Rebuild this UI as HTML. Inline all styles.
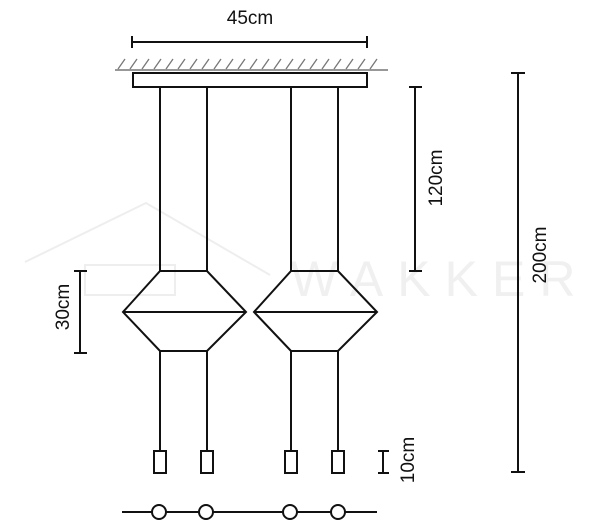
<!DOCTYPE html>
<html><head><meta charset="utf-8"><style>
html,body{margin:0;padding:0;background:#fff;}
svg{display:block}
text{font-family:"Liberation Sans","DejaVu Sans",sans-serif;fill:#111;}
</style></head><body>
<svg width="600" height="529" viewBox="0 0 600 529" xmlns="http://www.w3.org/2000/svg">
<!-- watermark -->
<g stroke="#eeeeee" stroke-width="2" fill="none">
<polyline points="25,262 146,203 270,275"/>
<rect x="85" y="265" width="90" height="30"/>
</g>
<text x="440" y="296" font-size="50" text-anchor="middle" style="fill:#f0f0f0;letter-spacing:14px">WAKKER</text>

<g stroke="#111" stroke-width="2" fill="none">
<!-- 45cm dim -->
<line x1="132" y1="42" x2="367" y2="42"/>
<line x1="132" y1="36" x2="132" y2="48"/>
<line x1="367" y1="36" x2="367" y2="48"/>
</g>
<text x="250" y="24" font-size="19" text-anchor="middle">45cm</text>

<!-- ceiling hatch -->
<g stroke="#777" stroke-width="1.5">
<line x1="115" y1="70" x2="388" y2="70"/>
<g id="h">
</g>
</g>
<g stroke="#777" stroke-width="1.3">
<line x1="118" y1="69" x2="125" y2="59"/><line x1="130" y1="69" x2="137" y2="59"/><line x1="142" y1="69" x2="149" y2="59"/><line x1="154" y1="69" x2="161" y2="59"/><line x1="166" y1="69" x2="173" y2="59"/><line x1="178" y1="69" x2="185" y2="59"/><line x1="190" y1="69" x2="197" y2="59"/><line x1="202" y1="69" x2="209" y2="59"/><line x1="214" y1="69" x2="221" y2="59"/><line x1="226" y1="69" x2="233" y2="59"/><line x1="238" y1="69" x2="245" y2="59"/><line x1="250" y1="69" x2="257" y2="59"/><line x1="262" y1="69" x2="269" y2="59"/><line x1="274" y1="69" x2="281" y2="59"/><line x1="286" y1="69" x2="293" y2="59"/><line x1="298" y1="69" x2="305" y2="59"/><line x1="310" y1="69" x2="317" y2="59"/><line x1="322" y1="69" x2="329" y2="59"/><line x1="334" y1="69" x2="341" y2="59"/><line x1="346" y1="69" x2="353" y2="59"/><line x1="358" y1="69" x2="365" y2="59"/><line x1="370" y1="69" x2="377" y2="59"/>
</g>

<g stroke="#111" stroke-width="2" fill="none">
<rect x="133" y="73" width="234" height="14" fill="#fff"/>
<!-- cords -->
<line x1="160" y1="87" x2="160" y2="271"/><line x1="207" y1="87" x2="207" y2="271"/>
<line x1="291" y1="87" x2="291" y2="271"/><line x1="338" y1="87" x2="338" y2="271"/>
<!-- lamp 1 -->
<polygon points="160,271 207,271 246,312 207,351 160,351 123,312"/>
<line x1="123" y1="312" x2="246" y2="312"/>
<!-- lamp 2 -->
<polygon points="291,271 338,271 377,312 338,351 291,351 254,312"/>
<line x1="254" y1="312" x2="377" y2="312"/>
<!-- lower cords -->
<line x1="160" y1="351" x2="160" y2="451"/><line x1="207" y1="351" x2="207" y2="451"/>
<line x1="291" y1="351" x2="291" y2="451"/><line x1="338" y1="351" x2="338" y2="451"/>
<!-- pendants -->
<rect x="154" y="451" width="12" height="22"/><rect x="201" y="451" width="12" height="22"/>
<rect x="285" y="451" width="12" height="22"/><rect x="332" y="451" width="12" height="22"/>
<!-- bottom view -->
<line x1="122" y1="512" x2="377" y2="512"/>
<circle cx="159" cy="512" r="7" fill="#fff"/><circle cx="206" cy="512" r="7" fill="#fff"/>
<circle cx="290" cy="512" r="7" fill="#fff"/><circle cx="338" cy="512" r="7" fill="#fff"/>
<!-- 30cm -->
<line x1="80" y1="271" x2="80" y2="353"/><line x1="74" y1="271" x2="87" y2="271"/><line x1="74" y1="353" x2="87" y2="353"/>
<!-- 120cm -->
<line x1="415" y1="87" x2="415" y2="271"/><line x1="409" y1="87" x2="422" y2="87"/><line x1="409" y1="271" x2="422" y2="271"/>
<!-- 200cm -->
<line x1="518" y1="73" x2="518" y2="472"/><line x1="511" y1="73" x2="525" y2="73"/><line x1="511" y1="472" x2="525" y2="472"/>
<!-- 10cm -->
<line x1="383" y1="451" x2="383" y2="473"/><line x1="378" y1="451" x2="389" y2="451"/><line x1="378" y1="473" x2="389" y2="473"/>
</g>
<text transform="translate(69,307) rotate(-90)" font-size="19" text-anchor="middle">30cm</text>
<text transform="translate(442,178) rotate(-90)" font-size="19" text-anchor="middle">120cm</text>
<text transform="translate(546,255) rotate(-90)" font-size="19" text-anchor="middle">200cm</text>
<text transform="translate(414,460) rotate(-90)" font-size="19" text-anchor="middle">10cm</text>
</svg>
</body></html>
